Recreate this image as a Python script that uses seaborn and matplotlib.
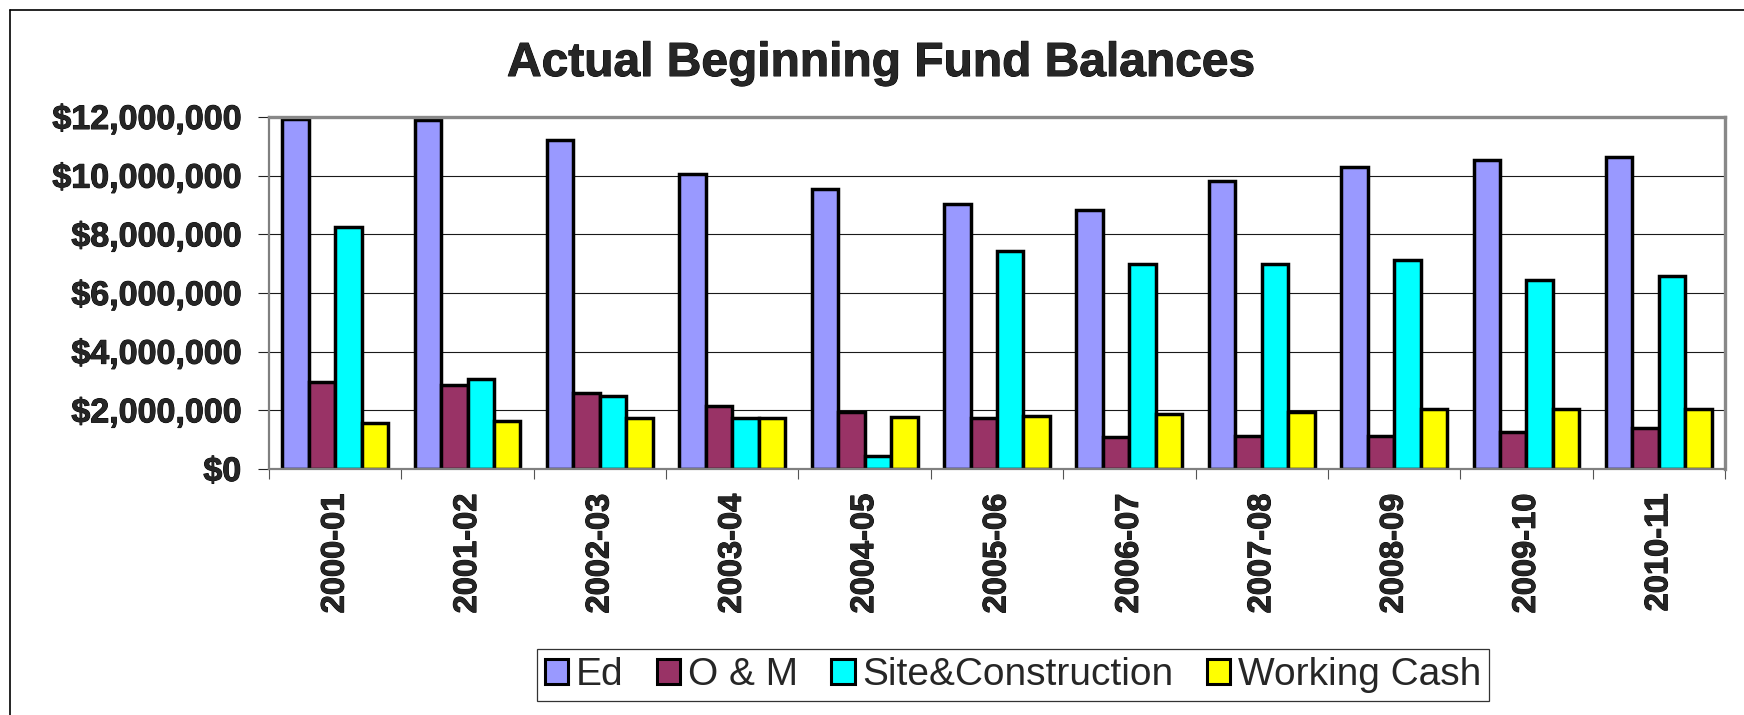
import matplotlib
matplotlib.use("Agg")
import matplotlib.pyplot as plt
from matplotlib.ticker import FuncFormatter, FixedLocator
from matplotlib.lines import Line2D
import matplotlib.patheffects as pe
import seaborn as sns
import pandas as pd

# Fiscal years and beginning balances (dollars) for each fund
years = ["2000-01", "2001-02", "2002-03", "2003-04", "2004-05", "2005-06",
         "2006-07", "2007-08", "2008-09", "2009-10", "2010-11"]
funds = ["Ed", "O & M", "Site&Construction", "Working Cash"]
ed = [11930000, 11910000, 11200000, 10050000, 9540000, 9050000,
      8840000, 9820000, 10280000, 10520000, 10620000]
o_and_m = [2960000, 2880000, 2590000, 2140000, 1950000, 1750000,
           1080000, 1140000, 1140000, 1250000, 1400000]
site_construction = [8240000, 3070000, 2500000, 1740000, 460000, 7420000,
                     6990000, 6990000, 7110000, 6440000, 6590000]
working_cash = [1570000, 1650000, 1730000, 1750000, 1780000, 1800000,
                1860000, 1950000, 2030000, 2030000, 2050000]
fund_colors = ["#9999FF", "#993366", "#00FFFF", "#FFFF00"]
y_ticks = [0, 2000000, 4000000, 6000000, 8000000, 10000000, 12000000]

rows = []
for fund, values in zip(funds, [ed, o_and_m, site_construction, working_cash]):
    for year, value in zip(years, values):
        rows.append({"Year": year, "Fund": fund, "Balance": value})
df = pd.DataFrame(rows)

sns.set_style("white")
plt.rcParams["font.family"] = ["Liberation Sans", "DejaVu Sans"]

heavy = [pe.withStroke(linewidth=0.7, foreground="black")]

W, H = 1744, 715
fig = plt.figure(figsize=(W / 100, H / 100), dpi=100)
ax = fig.add_axes([269 / W, 1 - 469 / H, (1725 - 269) / W, (469 - 117) / H])

sns.barplot(data=df, x="Year", y="Balance", hue="Fund", order=years,
            hue_order=funds, palette=dict(zip(funds, fund_colors)),
            saturation=1, width=0.8, edgecolor="black", linewidth=2.5,
            ax=ax, legend=True)

ax.set_xlim(-0.5, len(years) - 0.5)
ax.set_ylim(0, 12000000)
ax.set_xlabel("")
ax.set_ylabel("")

# Gridlines and frame
ax.set_axisbelow(True)
ax.yaxis.grid(True, color="#1a1a1a", linewidth=0.8)
ax.xaxis.grid(False)
for side in ["top", "right"]:
    ax.spines[side].set_color("#888888")
    ax.spines[side].set_linewidth(2.4)
for side in ["left", "bottom"]:
    ax.spines[side].set_color("#808080")
    ax.spines[side].set_linewidth(1.6)

# Y axis: dollar labels
ax.yaxis.set_major_locator(FixedLocator(y_ticks))
ax.yaxis.set_major_formatter(FuncFormatter(lambda v, p: f"${v:,.0f}"))
ax.tick_params(axis="y", which="major", direction="out", length=8,
               width=0.8, color="#222222", pad=12, labelsize=24.5, left=True)
for lbl in ax.get_yticklabels():
    lbl.set_fontweight("bold")
    lbl.set_path_effects(heavy)

# X axis: labels at group centres, ticks at group boundaries
ax.set_xticks(range(len(years)))
ax.set_xticklabels(years, rotation=90, fontsize=23.5, fontweight="bold",
                   va="top", ha="center")
for lbl in ax.get_xticklabels():
    lbl.set_path_effects(heavy)
ax.set_xticks([i - 0.5 for i in range(len(years) + 1)], minor=True)
ax.tick_params(axis="x", which="major", length=0, pad=18)
ax.tick_params(axis="x", which="minor", direction="out", length=7,
               width=0.8, color="#555555", bottom=True)

# Title
fig.text(881 / W, 1 - 76 / H, "Actual Beginning Fund Balances",
         ha="center", va="baseline", fontsize=34.5, fontweight="bold",
         path_effects=heavy)

# Legend
handles, labels = ax.get_legend_handles_labels()
if ax.legend_:
    ax.legend_.remove()
leg = fig.legend(handles, labels, loc="center",
                 bbox_to_anchor=(1013 / W, 1 - 675 / H),
                 bbox_transform=fig.transFigure, ncol=4, fontsize=28,
                 frameon=True, fancybox=False, edgecolor="black",
                 handlelength=0.6, handleheight=0.6, handletextpad=0.2,
                 columnspacing=0.85, borderpad=0.2, borderaxespad=0)
leg.get_frame().set_linewidth(0.9)
for h in leg.legend_handles:
    h.set_edgecolor("black")
    h.set_linewidth(2.2)

# Outer chart border (left and top edges)
fig.add_artist(Line2D([9.5 / W, 9.5 / W], [0, 1 - 9.5 / H],
                      transform=fig.transFigure, color="black", linewidth=1.2))
fig.add_artist(Line2D([9.5 / W, 1], [1 - 9.5 / H, 1 - 9.5 / H],
                      transform=fig.transFigure, color="black", linewidth=1.2))

fig.savefig("out.png", dpi=100)
